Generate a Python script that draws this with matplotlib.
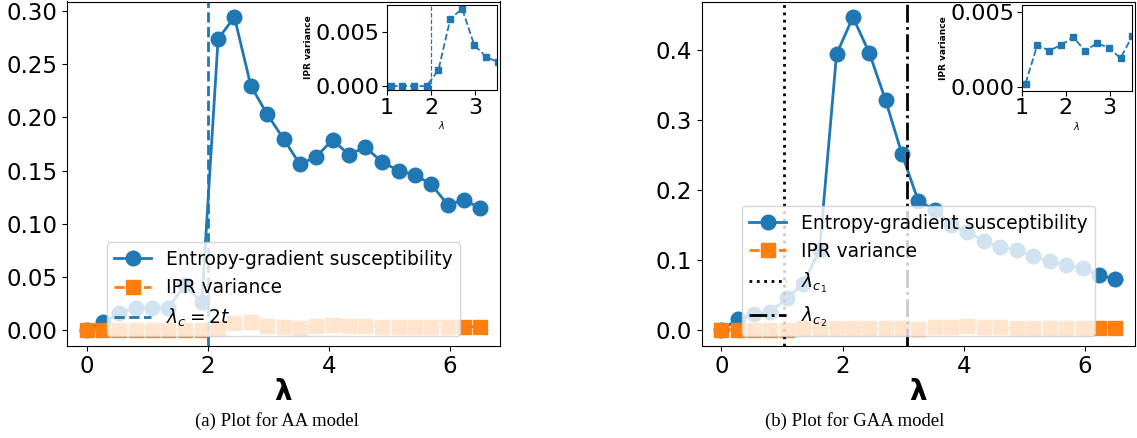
import numpy as np
import matplotlib
matplotlib.use('Agg')
import matplotlib.pyplot as plt

# ==========================================
# data
# ==========================================
lam = [0.00, 0.27, 0.54, 0.81, 1.08, 1.35, 1.62, 1.90, 2.17, 2.44, 2.71, 2.98, 3.25,
       3.52, 3.79, 4.06, 4.33, 4.60, 4.88, 5.15, 5.42, 5.69, 5.96, 6.23, 6.50]

# AA model
aa_egs = [0.000, 0.007, 0.016, 0.021, 0.021, 0.021, 0.042, 0.026, 0.274, 0.2945, 0.230, 0.203, 0.180,
          0.156, 0.163, 0.179, 0.165, 0.172, 0.158, 0.150, 0.146, 0.137, 0.118, 0.122, 0.115]
aa_ipr = [0.0, 0.0, 0.0, 0.0, 0.0, 0.0, 0.0, 0.0, 0.0015, 0.0062, 0.0071, 0.0038, 0.0027,
          0.0022, 0.0040, 0.0048, 0.0040, 0.0033, 0.0030, 0.0028, 0.0030, 0.0028, 0.0027, 0.0030, 0.0030]
aa_lc = 2.0

# GAA model
gaa_egs = [0.000, 0.015, 0.022, 0.026, 0.045, 0.066, 0.114, 0.394, 0.447, 0.396, 0.328, 0.251, 0.184,
           0.172, 0.150, 0.140, 0.127, 0.118, 0.114, 0.105, 0.098, 0.092, 0.088, 0.079, 0.072]
gaa_ipr = [0.0, 0.0001, 0.0001, 0.0001, 0.0002, 0.0028, 0.0024, 0.0028, 0.0033, 0.0024, 0.0029, 0.0026, 0.0019,
           0.0034, 0.0046, 0.0052, 0.0042, 0.0036, 0.0033, 0.0030, 0.0031, 0.0029, 0.0030, 0.0031, 0.0031]
gaa_lc1 = 1.04
gaa_lc2 = 3.07

W, H = 1137, 438


def px_axes(fig, x0, y0, x1, y1):
    """axes from pixel box (top-left origin)"""
    return fig.add_axes([x0 / W, (H - y1) / H, (x1 - x0) / W, (y1 - y0) / H])


def main_panel(ax, egs, ipr):
    ax.plot(lam, egs, '-o', color='C0', lw=2, ms=10.5, label='Entropy-gradient susceptibility')
    ax.plot(lam, ipr, '--s', color='C1', lw=2, ms=9.5, label='IPR variance')
    ax.tick_params(labelsize=16.5)
    ax.set_xlabel(r'$\boldsymbol{\lambda}$', fontsize=20, labelpad=0)


def inset(ax, ipr):
    ax.plot(lam, ipr, '--s', color='C0', lw=1.3, ms=4.5)
    ax.set_xlim(1, 3.5)
    ax.tick_params(labelsize=16, pad=2)
    ax.set_xlabel(r'$\lambda$', fontsize=7, labelpad=1)
    ax.set_ylabel('IPR variance', fontsize=6.5, fontweight='bold', labelpad=2)


fig = plt.figure(figsize=(W / 100, H / 100), dpi=100)

# ── (a) AA ──
axa = px_axes(fig, 67, 1.5, 500, 345.5)
main_panel(axa, aa_egs, aa_ipr)
axa.axvline(aa_lc, color='C0', ls='--', lw=2, label=r'$\lambda_c = 2t$')
axa.set_yticks([0.0, 0.05, 0.10, 0.15, 0.20, 0.25, 0.30])
axa.legend(loc='lower center', fontsize=13.4)

ina = px_axes(fig, 387, 5, 497, 90)
inset(ina, aa_ipr)
ina.axvline(aa_lc, color='C0', ls='--', lw=0.9)
ina.set_yticks([0.0, 0.005])

# ── (b) GAA ──
axb = px_axes(fig, 701.7, 1.5, 1135, 345.5)
main_panel(axb, gaa_egs, gaa_ipr)
axb.axvline(gaa_lc1, color='black', ls=':', lw=2, label=r'$\lambda_{c_1}$')
axb.axvline(gaa_lc2, color='black', ls='-.', lw=2, label=r'$\lambda_{c_2}$')
axb.set_yticks([0.0, 0.1, 0.2, 0.3, 0.4])
axb.legend(loc='lower center', fontsize=13.4)

inb = px_axes(fig, 1022, 5, 1131.5, 90.5)
inset(inb, gaa_ipr)
inb.set_yticks([0.0, 0.005])

# captions
fig.text(277 / W, 1 - 421 / H, '(a) Plot for AA model', ha='center', va='center',
         fontsize=13.5, family='Liberation Serif')
fig.text(855 / W, 1 - 421 / H, '(b) Plot for GAA model', ha='center', va='center',
         fontsize=13.5, family='Liberation Serif')

fig.savefig('out.png', dpi=100)
